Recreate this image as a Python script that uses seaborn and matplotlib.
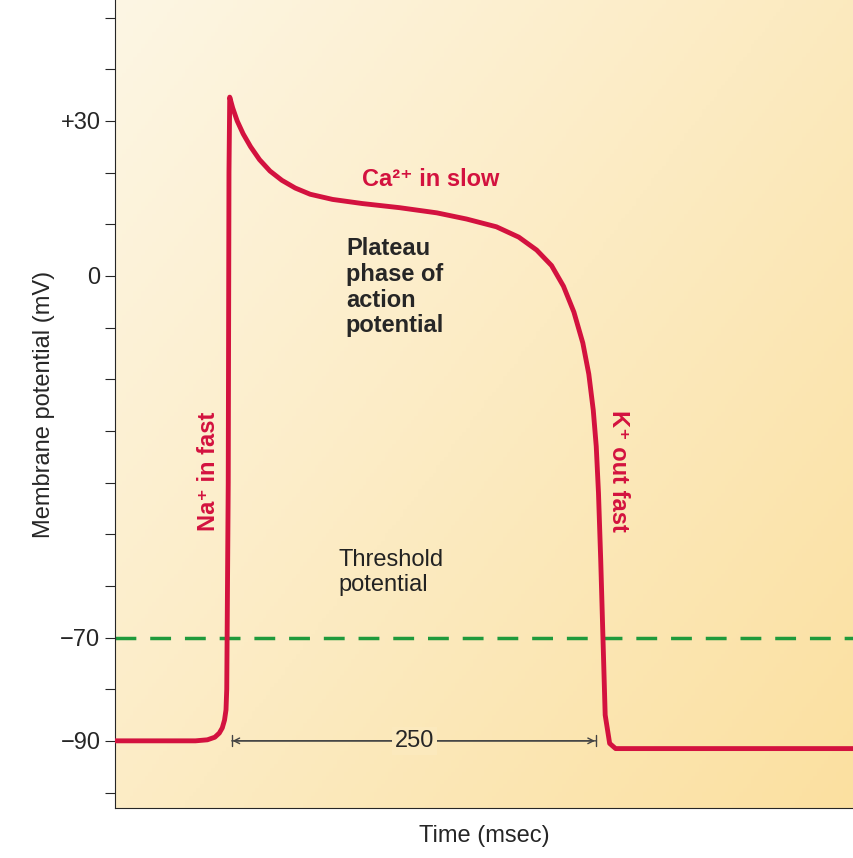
import numpy as np
import matplotlib.pyplot as plt
import seaborn as sns

# action potential trace (time in msec from upstroke, membrane potential in mV)
time_ms = [-76, -22, -14, -9, -6, -4, -2.5, -1.5, -1, 0, 0.5, 1, 3, 6, 10, 15, 21, 28, 36,
           45, 55, 70, 90, 115, 140, 160, 180, 195, 207, 217, 225, 232, 238, 242, 245,
           247, 248.5, 250, 251.5, 253, 256, 260, 420]
potential_mv = [-90, -90, -89.8, -89.3, -88.5, -87.5, -86, -84, -80, -40, 20, 34.6, 32.5,
                30, 27.5, 25, 22.5, 20.3, 18.5, 17, 15.8, 14.8, 14, 13.2, 12.2, 11, 9.5, 7.5,
                5, 2, -2, -7, -13, -19, -26, -33, -42, -55, -70, -85, -90.5, -91.5, -91.5]
threshold_mv = -70
ytick_vals = [30, 0, -70, -90]
ytick_labels = ["+30", "0", "\u221270", "\u221290"]

sns.set_style("white")
plt.rcParams['font.family'] = ['Liberation Sans', 'DejaVu Sans']

red = "#d3123f"
fig = plt.figure(figsize=(8.54, 8.58), dpi=100)
ax = fig.add_axes([115 / 854, 50 / 858, 739 / 854, 808 / 858])
xlim = (-76, 420)
ylim = (-103, 53.4)

# background gradient
gx, gy = np.meshgrid(np.linspace(0, 1, 200), np.linspace(0, 1, 200))
g = np.clip(0.55 * gx + 0.45 * gy, 0, 1)
c0 = np.array([253, 246, 228]) / 255
c1 = np.array([251, 224, 160]) / 255
img = c0 + (c1 - c0) * g[..., None]
ax.imshow(img, extent=[*xlim, *ylim], aspect='auto', origin='upper', zorder=0)

sns.lineplot(x=time_ms, y=potential_mv, ax=ax, color=red, lw=3.5, sort=False, zorder=3)
ax.axhline(threshold_mv, color="#1f9a3c", lw=2.5, ls=(0, (6, 4)), zorder=2)

ax.set_xlim(*xlim)
ax.set_ylim(*ylim)
ax.set_xticks([])
ax.set_yticks(ytick_vals)
ax.set_yticklabels(ytick_labels, fontsize=17)
ax.set_yticks(np.arange(-100, 51, 10), minor=True)
ax.tick_params(axis='y', which='both', direction='out', left=True, length=7, width=0.8)
for s in ["top", "right"]:
    ax.spines[s].set_visible(False)
ax.set_ylabel("Membrane potential (mV)", fontsize=17)
ax.set_xlabel("Time (msec)", fontsize=17, labelpad=12)

# 250 msec bracket
ax.annotate("", xy=(0.5, -90), xytext=(249, -90),
            arrowprops=dict(arrowstyle="|-|,widthA=0.4,widthB=0.4", color="#444", lw=1))
ax.annotate("", xy=(1, -90), xytext=(248, -90),
            arrowprops=dict(arrowstyle="<->", color="#444", lw=1))
ax.text(125, -90, "250", ha='center', va='center', fontsize=17,
        bbox=dict(fc="#fbe9bd", ec='none', pad=2), zorder=4)

ax.text(136, 18.6, "Ca\u00b2\u207a in slow", color=red, fontsize=17, fontweight='bold',
        ha='center', va='center')
ax.text(79, 7.5, "Plateau\nphase of\naction\npotential", fontsize=17, fontweight='bold',
        ha='left', va='top', linespacing=1.15)
ax.text(-13, -37.8, "Na\u207a in fast", color=red, fontsize=17, fontweight='bold',
        rotation=90, ha='center', va='center')
ax.text(262, -37.8, "K\u207a out fast", color=red, fontsize=17, fontweight='bold',
        rotation=-90, ha='center', va='center')
ax.text(74, -62, "Threshold\npotential", fontsize=17, ha='left', va='bottom',
        color="#222", linespacing=1.2)

fig.savefig("out.png", dpi=100)
